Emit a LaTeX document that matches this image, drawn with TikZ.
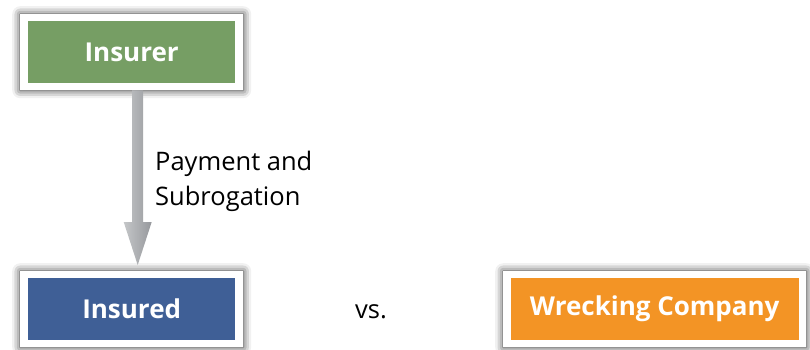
\documentclass[tikz,border=0pt]{standalone}
\usepackage{fontspec}
\setmainfont{Open Sans}
\usetikzlibrary{shadows.blur,calc}
\definecolor{boxgreen}{RGB}{118,158,100}
\definecolor{boxblue}{RGB}{63,95,150}
\definecolor{boxorange}{RGB}{243,148,37}
\definecolor{arrowlight}{RGB}{196,198,200}
\definecolor{arrowdark}{RGB}{150,152,156}
\tikzset{
  frame/.style={fill=white, minimum height=76pt, inner sep=0pt, anchor=north west,
    blur shadow={shadow xshift=0pt, shadow yshift=0pt, shadow blur radius=8pt, shadow opacity=85}},
  inner/.style={minimum height=62pt, inner sep=0pt, text=white, font=\bfseries\fontsize{26}{30}\selectfont},
  plain/.style={font=\fontsize{25.5}{35}\selectfont, align=left, inner sep=0pt}
}
\begin{document}
\begin{tikzpicture}[x=1pt,y=-1pt]
\useasboundingbox (0,0) rectangle (810,350);
% frames
\node[frame, minimum width=223pt] (f1) at (20,14) {};
\node[frame, minimum width=223pt] (f2) at (20,271) {};
\node[frame, minimum width=303pt] (f3) at (503,271) {};
% inner boxes
\node[inner, fill=boxgreen, minimum width=207pt] (insurer) at (f1.center) {Insurer};
\node[inner, fill=boxblue, minimum width=207pt] (insured) at (f2.center) {Insured};
\node[inner, fill=boxorange, minimum width=288pt] (wreck) at (f3.center) {Wrecking Company};
% arrow
\coordinate (a0) at ($(f1.south)+(6,0)$);
\coordinate (tip) at ($(f2.north)+(6,-6)$);
\path[left color=arrowlight, right color=arrowdark]
  ($(a0)+(-5.5,0)$) -- ($(tip)+(-5.5,-43)$) -- ($(tip)+(-14,-43)$) -- (tip)
  -- ($(tip)+(14,-43)$) -- ($(tip)+(5.5,-43)$) -- ($(a0)+(5.5,0)$) -- cycle;
% labels
\node[plain, anchor=base west] (lab) at (155,205) {Payment and\\Subrogation};
\node[plain, anchor=base west] (vs) at (355,318) {vs.};
\end{tikzpicture}
\end{document}
